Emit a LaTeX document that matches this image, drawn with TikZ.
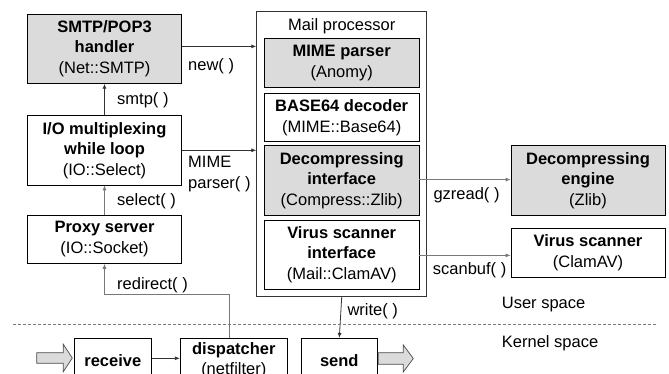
\documentclass[tikz,border=0pt]{standalone}
\usepackage{fontspec}
\setmainfont{Liberation Sans}
\usetikzlibrary{arrows.meta,calc}
\definecolor{boxgray}{RGB}{219,219,219}
\definecolor{linegray}{RGB}{120,120,120}
\begin{document}
\begin{tikzpicture}[x=1pt,y=-1pt,
  font=\fontsize{16.5}{20.5}\selectfont,
  blk/.style={draw=black,line width=0.8pt,inner sep=0pt,align=center,minimum width=154.4pt},
  shaded/.style={fill=boxgray},
  conn/.style={draw=black!80,line width=0.8pt,-{Latex[length=5pt,width=4pt]}},
  gconn/.style={draw=linegray,line width=0.8pt,-{Latex[length=5pt,width=4pt]}},
  lbl/.style={anchor=west,inner sep=0pt,align=left},
  fat/.style={fill=boxgray,draw=black!70,line width=0.7pt}
]
\useasboundingbox (0,0) rectangle (669,374);
\clip (0,0) rectangle (669,374);
\fill[white] (0,0) rectangle (669,374);

% left column
\node[blk,shaded,minimum height=69.3pt] (smtp) at (104.5,48.7) {\textbf{SMTP/POP3}\\\textbf{handler}\\(Net::SMTP)};
\node[blk,minimum height=69.3pt] (io) at (104.5,150.3) {\textbf{I/O multiplexing}\\\textbf{while loop}\\(IO::Select)};
\node[blk,minimum height=48.3pt] (proxy) at (104.5,239.2) {\textbf{Proxy server}\\(IO::Socket)};

% mail processor
\node[draw=black!80,line width=0.8pt,minimum width=170pt,minimum height=285pt,inner sep=0pt] (mp) at (341.7,154.2) {};
\node[inner sep=0pt] (mptitle) at (341.7,26.7) {Mail processor};
\node[blk,shaded,minimum width=154.7pt,minimum height=49pt] (mime) at (341.7,62.8) {\textbf{MIME parser}\\(Anomy)};
\node[blk,minimum width=154.7pt,minimum height=48.4pt] (b64) at (341.7,117.5) {\textbf{BASE64 decoder}\\(MIME::Base64)};
\node[blk,shaded,minimum width=154.7pt,minimum height=69.3pt] (dif) at (341.7,180.3) {\textbf{Decompressing}\\\textbf{interface}\\(Compress::Zlib)};
\node[blk,minimum width=154.7pt,minimum height=69.3pt] (vif) at (341.7,254.7) {\textbf{Virus scanner}\\\textbf{interface}\\(Mail::ClamAV)};

% right column
\node[blk,shaded,minimum width=154pt,minimum height=69.3pt] (deng) at (588,180.3) {\textbf{Decompressing}\\\textbf{engine}\\(Zlib)};
\node[blk,minimum width=154pt,minimum height=49pt] (vs) at (588,252.8) {\textbf{Virus scanner}\\(ClamAV)};

% kernel boxes
\node[blk,minimum width=77.7pt,minimum height=43.7pt] (recv) at (112.8,360.2) {\textbf{receive}};
\node[blk,minimum width=107pt,minimum height=43.7pt] (disp) at (233.8,360.2) {\textbf{dispatcher}\\(netfilter)};
\node[blk,minimum width=76.7pt,minimum height=43.7pt] (send) at (339.3,360.2) {\textbf{send}};

% connectors
\draw[conn] ([yshift=2.3pt]smtp.east) -- ([yshift=2.3pt]smtp.east -| mp.west);
\draw[conn] (io.east) -- (io.east -| mp.west);
\draw[conn] (io.north) -- (smtp.south);
\draw[gconn] (proxy.north) -- (io.south);
\draw[gconn] ([xshift=-4pt]disp.north) -- ++(0,-44) -| (proxy.south);
\draw[conn] (mp.south) -- (send.north);
\draw[conn] (recv.east) ++(0,-1.9) coordinate (re) (re) -- (re -| disp.west);
\draw[gconn] ([yshift=0.7pt]dif.east) -- ([yshift=0.7pt]dif.east -| deng.west);
\draw[gconn] ([yshift=-0.7pt]vif.east) -- ([yshift=-0.7pt]vif.east -| vs.west);

% labels
\node[lbl] (lnew) at (188,66.7) {new( )};
\node[lbl] (lsmtp) at (117,100) {smtp( )};
\node[lbl] (lmime) at (188,174) {MIME\\parser( )};
\node[lbl] (lsel) at (117,201.7) {select( )};
\node[lbl] (lred) at (117,285) {redirect( )};
\node[lbl] (lwrite) at (347.3,311) {write( )};
\node[lbl] (lgz) at (433.3,195) {gzread( )};
\node[lbl] (lscan) at (432.7,270) {scanbuf( )};
\node[lbl] (luser) at (501.7,305) {User space};
\node[lbl] (lkern) at (501.7,343.3) {Kernel space};

% user/kernel separator
\draw[linegray,line width=0.8pt,dash pattern=on 3pt off 2pt] (13,324) -- (658,324);

% fat arrows
\draw[fat] (36.7,352.7) -- (63.3,352.7) -- (63.3,344.3) -- (72.3,358) -- (63.3,371.7) -- (63.3,363.3) -- (36.7,363.3) -- cycle;
\draw[fat] (378.3,352.7) -- (403.3,352.7) -- (403.3,345) -- (413.3,358.5) -- (403.3,372) -- (403.3,364.3) -- (378.3,364.3) -- cycle;
\end{tikzpicture}
\end{document}
